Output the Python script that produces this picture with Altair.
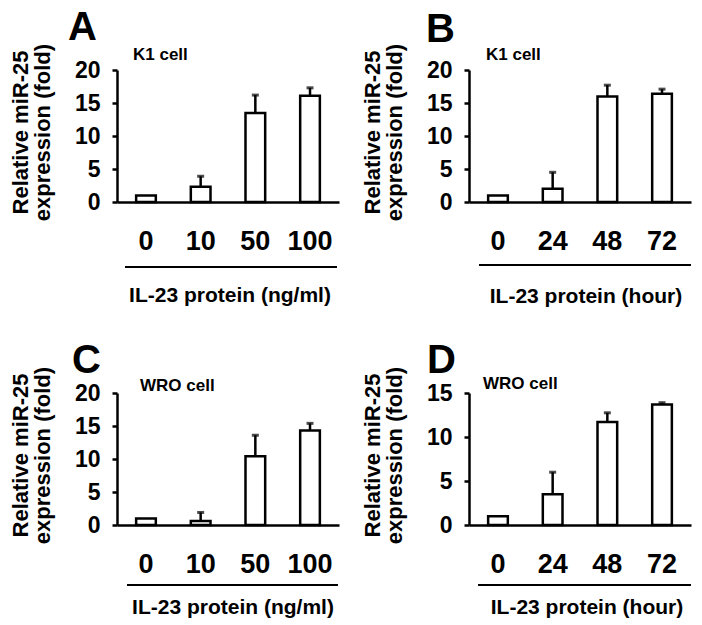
import altair as alt
import pandas as pd

FONT = "Liberation Sans"

# ---- data ----
cats_dose = ["0", "10", "50", "100"]
cats_time = ["0", "24", "48", "72"]

mean_A = [1.0, 2.3, 13.5, 16.1]
sd_A = [0.0, 1.6, 2.7, 1.2]
mean_B = [1.0, 2.0, 16.0, 16.4]
sd_B = [0.0, 2.5, 1.7, 0.7]
mean_C = [1.0, 0.6, 10.4, 14.3]
sd_C = [0.0, 1.3, 3.2, 1.1]
mean_D = [1.0, 3.5, 11.7, 13.7]
sd_D = [0.0, 2.5, 1.05, 0.2]

yticks_20 = [0, 5, 10, 15, 20]
yticks_15 = [0, 5, 10, 15]

ytitle = ["Relative miR-25", "expression (fold)"]
xtitle_dose = "IL-23 protein (ng/ml)"
xtitle_time = "IL-23 protein (hour)"

W, H = 222, 132


def panel(cats, means, sds, ymax, yvals, letter, lxy, sub, sxy, xtitle, txy, line_y, line_x, anchor=False):
    df = pd.DataFrame({"cat": cats, "mean": means, "sd": sds})
    df["upper"] = df["mean"] + df["sd"]
    base = alt.Chart(df)

    xenc = alt.X(
        "cat:N", sort=cats,
        scale=alt.Scale(paddingInner=0.64, paddingOuter=0.35),
        axis=alt.Axis(title=None, labelAngle=0, labelFontSize=27, labelPadding=26,
                      ticks=False, labelFont=FONT, labelFontWeight="bold",
                      domainWidth=2.5, domainColor="black", labelColor="black"),
    )
    yaxis = alt.Axis(values=yvals, title=ytitle, titleFontSize=22, titleFont=FONT,
                     titleFontWeight="bold", titleAngle=270, titleX=-85, titleY=62,
                     titleAlign="center", titleBaseline="bottom", titleLineHeight=22,
                     titleColor="black", labelFontSize=23, labelPadding=12,
                     labelFont=FONT, labelFontWeight="bold", labelColor="black",
                     tickSize=5, tickWidth=2.5, tickColor="black",
                     domainWidth=2.5, domainColor="black", grid=False)
    yscale = alt.Scale(domain=[0, ymax], nice=False)

    bars = base.mark_bar(fill="white", stroke="black", strokeWidth=2.5).encode(
        x=xenc, y=alt.Y("mean:Q", scale=yscale, axis=yaxis))
    stems = base.transform_filter("datum.sd > 0").mark_rule(strokeWidth=2.5, color="black").encode(
        x=alt.X("cat:N", sort=cats), y=alt.Y("mean:Q", scale=yscale, axis=yaxis), y2="upper:Q")
    caps = base.transform_filter("datum.sd > 0").mark_tick(size=7, thickness=3, color="black").encode(
        x=alt.X("cat:N", sort=cats), y=alt.Y("upper:Q", scale=yscale, axis=yaxis))

    def txt(s, xy, size, align="left", baseline="alphabetic"):
        return alt.Chart(pd.DataFrame({"t": [s]})).mark_text(
            align=align, baseline=baseline, fontSize=size, font=FONT,
            fontWeight="bold", color="black").encode(
            text="t:N", x=alt.value(xy[0]), y=alt.value(xy[1]))

    t_letter = txt(letter, lxy, 40, baseline="top")
    t_sub = txt(sub, sxy, 17)
    t_x = txt(xtitle, txy, 21, align="center")
    underline = alt.Chart(pd.DataFrame({"a": [0]})).mark_rule(color="black", strokeWidth=2).encode(
        x=alt.value(line_x[0]), x2=alt.value(line_x[1]), y=alt.value(line_y))

    layers = [bars, stems, caps, t_letter, t_sub, t_x, underline]
    if anchor:
        layers.append(alt.Chart(pd.DataFrame({"a": [0]})).mark_rect(fill="white").encode(
            x=alt.value(-109), x2=alt.value(-108), y=alt.value(-62), y2=alt.value(-61)))
    return alt.layer(*layers).properties(width=W, height=H)


pA = panel(cats_dose, mean_A, sd_A, 20, yticks_20, "A", (-49, -62), "K1 cell", (16, -10),
           xtitle_dose, (113, 232), 197, (8, 220), anchor=True)
pB = panel(cats_time, mean_B, sd_B, 20, yticks_20, "B", (-43, -60), "K1 cell", (17, -10),
           xtitle_time, (117, 233), 195, (10, 222))
pC = panel(cats_dose, mean_C, sd_C, 20, yticks_20, "C", (-45, -52), "WRO cell", (23, -2),
           xtitle_dose, (116, 221), 192, (10, 221))
pD = panel(cats_time, mean_D, sd_D, 15, yticks_15, "D", (-42, -52), "WRO cell", (14, -4),
           xtitle_time, (118, 221), 192, (9, 222))

chart = alt.concat(pA, pB, pC, pD, columns=2, spacing={"row": 191, "column": 130},
                   bounds="flush").resolve_scale(x="independent", y="independent").configure_view(
    stroke=None).properties(padding=0, background="white")

chart.save("out.html", embed_options={"renderer": "svg", "actions": False})
